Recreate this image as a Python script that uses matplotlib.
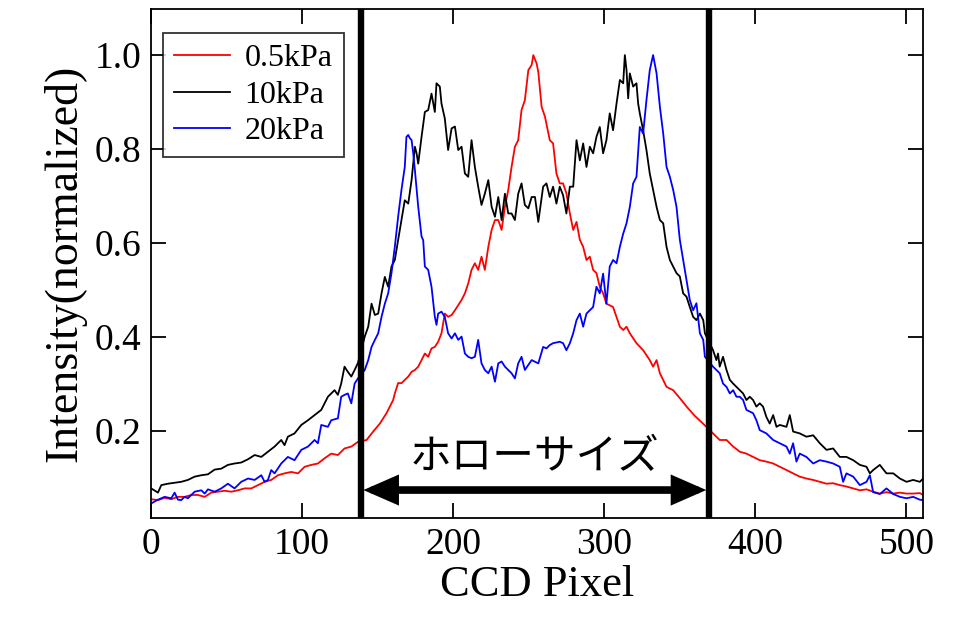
import numpy as np
import matplotlib.pyplot as plt

plt.rcParams['font.family'] = ['Liberation Serif', 'DejaVu Serif']

# 0.5kPa (red)
x_red = [0, 4.5, 8.9, 13.3, 17.7, 22.1, 26.5, 31.0, 35.4, 39.8, 44.2, 48.6, 53.0, 57.4,
         61.9, 66.3, 70.7, 75.1, 79.5, 83.9, 88.3, 92.7, 97.2, 101.6, 106.0, 110.4, 114.8,
         119.2, 123.6, 128.0, 132.5, 136.9, 142.6, 147.0, 151.4, 155.8, 160.2, 161.3, 163.5,
         165.7, 167.9, 170.2, 172.4, 174.6, 176.8, 181.2, 183.4, 185.6, 187.8, 190.0, 192.2,
         194.4, 196.6, 198.9, 201.1, 203.3, 205.5, 207.7, 209.9, 212.1, 214.3, 216.5, 218.7,
         220.9, 223.2, 225.4, 227.6, 229.8, 232.0, 234.2, 236.4, 238.6, 240.8, 243.0, 245.2,
         247.4, 249.7, 251.9, 253.0, 255.2, 256.3, 258.5, 260.7, 263.9, 266.1, 268.3, 270.5,
         272.7, 274.9, 277.2, 279.4, 281.6, 283.8, 286.0, 288.2, 290.4, 292.6, 294.8, 297.0,
         299.2, 301.4, 305.8, 310.3, 312.5, 314.7, 316.9, 321.3, 325.7, 330.1, 332.3, 334.6,
         336.8, 341.2, 345.6, 350.0, 355.0, 360.0, 365.0, 372.0, 376.4, 380.9, 385.3, 389.7,
         394.1, 398.5, 402.9, 407.3, 411.8, 416.2, 420.6, 425.0, 429.4, 433.8, 438.3, 442.7,
         447.1, 451.5, 455.9, 460.3, 464.8, 469.2, 473.6, 478.0, 482.4, 486.8, 491.3, 495.7,
         500.1, 504.5, 508.9, 511.1]
i_red = [0.055, 0.053, 0.058, 0.055, 0.060, 0.060, 0.064, 0.064, 0.060, 0.069, 0.071, 0.073,
         0.071, 0.074, 0.078, 0.078, 0.085, 0.092, 0.096, 0.106, 0.110, 0.113, 0.110, 0.124,
         0.128, 0.131, 0.142, 0.152, 0.149, 0.163, 0.167, 0.177, 0.181, 0.199, 0.216, 0.238,
         0.266, 0.280, 0.302, 0.302, 0.309, 0.316, 0.326, 0.330, 0.337, 0.365, 0.358, 0.376,
         0.379, 0.390, 0.408, 0.450, 0.443, 0.447, 0.457, 0.468, 0.479, 0.493, 0.514, 0.543,
         0.557, 0.543, 0.571, 0.543, 0.592, 0.628, 0.649, 0.649, 0.628, 0.677, 0.713, 0.762,
         0.805, 0.819, 0.883, 0.904, 0.968, 0.979, 1.000, 0.982, 0.964, 0.890, 0.869, 0.819,
         0.812, 0.748, 0.727, 0.727, 0.706, 0.663, 0.628, 0.645, 0.607, 0.592, 0.564, 0.571,
         0.543, 0.536, 0.507, 0.493, 0.471, 0.464, 0.422, 0.415, 0.422, 0.408, 0.387, 0.372,
         0.351, 0.337, 0.351, 0.323, 0.294, 0.287, 0.270, 0.250, 0.232, 0.217, 0.195, 0.181,
         0.181, 0.167, 0.156, 0.152, 0.145, 0.138, 0.135, 0.131, 0.124, 0.117, 0.110, 0.103,
         0.099, 0.096, 0.092, 0.088, 0.089, 0.085, 0.082, 0.078, 0.074, 0.076, 0.071, 0.067,
         0.070, 0.067, 0.069, 0.067, 0.067, 0.068, 0.064]

# 10kPa (black)
x_black = [0, 4.5, 6.7, 11.1, 15.5, 19.9, 24.3, 28.8, 33.2, 37.6, 42.0, 46.4, 50.8, 55.2,
           59.6, 64.1, 68.5, 72.9, 77.3, 81.7, 86.1, 88.3, 90.5, 94.9, 99.4, 103.8, 108.2,
           112.6, 117.0, 121.4, 123.6, 125.8, 128.0, 130.2, 132.5, 134.7, 136.9, 141.4, 143.7,
           145.9, 148.1, 150.3, 152.5, 154.7, 156.9, 159.1, 161.3, 163.5, 165.7, 167.9, 170.2,
           172.4, 174.6, 175.7, 176.8, 179.0, 181.2, 183.4, 185.6, 187.8, 188.9, 191.1, 192.2,
           194.4, 196.6, 198.9, 201.1, 203.3, 205.5, 207.7, 209.9, 212.1, 214.3, 216.5, 218.7,
           220.9, 223.2, 225.4, 227.6, 229.8, 232.0, 234.2, 236.4, 238.6, 240.8, 243.0, 245.2,
           247.4, 249.7, 251.9, 254.1, 256.3, 259.5, 261.7, 263.9, 266.1, 268.3, 270.5, 272.7,
           274.9, 277.2, 279.4, 281.6, 283.8, 286.0, 288.2, 290.4, 292.6, 294.8, 297.0, 299.2,
           301.4, 303.6, 305.8, 308.1, 310.3, 312.5, 313.6, 314.7, 315.8, 316.9, 319.1, 321.3,
           322.4, 323.5, 325.7, 327.9, 330.1, 332.3, 334.6, 336.8, 339.0, 341.2, 343.4, 345.6,
           347.8, 350.0, 352.2, 354.4, 356.6, 358.8, 361.0, 363.3, 365.5, 366.6, 372.0, 374.2,
           375.3, 376.4, 378.6, 380.9, 383.1, 385.3, 387.5, 389.7, 391.9, 394.1, 396.3, 398.5,
           400.7, 402.9, 405.1, 407.3, 409.5, 411.8, 414.0, 416.2, 420.6, 422.8, 425.0, 429.4,
           433.8, 438.3, 442.7, 447.1, 451.5, 455.9, 460.3, 464.8, 469.2, 473.6, 475.8, 478.0,
           482.4, 486.8, 491.3, 495.7, 500.1, 504.5, 508.9, 511.1]
i_black = [0.078, 0.069, 0.085, 0.088, 0.090, 0.092, 0.096, 0.103, 0.106, 0.108, 0.118,
           0.120, 0.128, 0.131, 0.133, 0.140, 0.149, 0.145, 0.156, 0.167, 0.181, 0.170,
           0.188, 0.195, 0.213, 0.223, 0.234, 0.245, 0.273, 0.287, 0.277, 0.301, 0.337,
           0.326, 0.316, 0.330, 0.345, 0.401, 0.422, 0.471, 0.447, 0.450, 0.493, 0.528,
           0.507, 0.550, 0.564, 0.607, 0.649, 0.691, 0.684, 0.734, 0.805, 0.791, 0.769,
           0.826, 0.879, 0.883, 0.918, 0.879, 0.940, 0.933, 0.897, 0.865, 0.798, 0.844,
           0.848, 0.798, 0.805, 0.748, 0.741, 0.819, 0.762, 0.720, 0.681, 0.705, 0.734,
           0.677, 0.656, 0.698, 0.649, 0.705, 0.663, 0.663, 0.649, 0.705, 0.727, 0.681,
           0.674, 0.698, 0.698, 0.645, 0.720, 0.727, 0.698, 0.720, 0.684, 0.720, 0.702,
           0.663, 0.720, 0.720, 0.819, 0.776, 0.812, 0.762, 0.805, 0.791, 0.826, 0.847,
           0.791, 0.819, 0.876, 0.840, 0.897, 0.947, 0.940, 1.000, 0.968, 0.908, 0.961,
           0.933, 0.940, 0.897, 0.876, 0.840, 0.798, 0.748, 0.713, 0.677, 0.649, 0.642,
           0.592, 0.564, 0.550, 0.536, 0.529, 0.493, 0.486, 0.464, 0.443, 0.436, 0.450,
           0.436, 0.408, 0.372, 0.351, 0.365, 0.337, 0.358, 0.330, 0.309, 0.301, 0.294,
           0.287, 0.280, 0.266, 0.273, 0.266, 0.252, 0.259, 0.252, 0.230, 0.216, 0.234,
           0.209, 0.213, 0.209, 0.234, 0.199, 0.195, 0.188, 0.191, 0.174, 0.160, 0.163,
           0.145, 0.145, 0.138, 0.128, 0.124, 0.110, 0.117, 0.128, 0.110, 0.110, 0.099,
           0.092, 0.096, 0.092, 0.099]

# 20kPa (blue)
x_blue = [0, 4.5, 8.9, 13.3, 15.5, 17.7, 19.9, 22.1, 24.3, 28.8, 33.2, 35.4, 37.6, 42.0,
          46.4, 50.8, 55.2, 59.6, 64.1, 68.5, 72.9, 75.1, 77.3, 79.5, 81.7, 86.1, 90.5, 94.9,
          99.4, 103.8, 108.2, 110.4, 112.6, 117.0, 119.2, 123.6, 125.8, 128.0, 130.2, 132.5,
          134.7, 136.9, 141.4, 143.7, 145.9, 148.1, 150.3, 152.5, 154.7, 156.9, 159.1, 161.3,
          163.5, 165.7, 167.9, 169.0, 170.2, 171.3, 172.4, 173.5, 174.6, 176.8, 179.0, 180.1,
          181.2, 183.4, 185.6, 187.8, 188.9, 190.0, 192.2, 194.4, 196.6, 198.9, 201.1, 203.3,
          205.5, 207.7, 209.9, 212.1, 214.3, 216.5, 218.7, 220.9, 223.2, 225.4, 227.6, 229.8,
          232.0, 234.2, 238.6, 240.8, 243.0, 245.2, 247.4, 251.9, 256.3, 259.5, 261.7, 263.9,
          266.1, 270.5, 272.7, 274.9, 277.2, 279.4, 281.6, 283.8, 286.0, 288.2, 290.4, 292.6,
          294.8, 297.0, 299.2, 301.4, 303.6, 305.8, 308.1, 310.3, 312.5, 314.7, 316.9, 319.1,
          321.3, 323.5, 325.7, 327.9, 330.1, 332.3, 334.6, 336.8, 339.0, 341.2, 343.4, 345.6,
          347.8, 350.0, 352.2, 354.4, 356.6, 358.8, 361.0, 363.3, 365.5, 366.6, 372.0, 376.4,
          378.6, 380.9, 383.1, 385.3, 387.5, 389.7, 391.9, 394.1, 398.5, 400.7, 402.9, 407.3,
          411.8, 416.2, 420.6, 422.8, 425.0, 427.2, 429.4, 433.8, 438.3, 442.7, 447.1, 451.5,
          455.9, 458.1, 460.3, 464.8, 469.2, 473.6, 475.8, 478.0, 482.4, 486.8, 491.3, 495.7,
          500.1, 504.5, 508.9, 511.1]
i_blue = [0.046, 0.054, 0.060, 0.057, 0.069, 0.054, 0.053, 0.060, 0.057, 0.071, 0.074,
          0.067, 0.076, 0.071, 0.078, 0.088, 0.078, 0.092, 0.099, 0.096, 0.106, 0.092,
          0.096, 0.117, 0.110, 0.131, 0.145, 0.138, 0.160, 0.167, 0.181, 0.174, 0.213,
          0.209, 0.223, 0.227, 0.273, 0.277, 0.280, 0.259, 0.301, 0.312, 0.330, 0.351,
          0.379, 0.394, 0.408, 0.443, 0.471, 0.493, 0.536, 0.592, 0.656, 0.713, 0.762,
          0.826, 0.830, 0.823, 0.819, 0.791, 0.755, 0.677, 0.614, 0.606, 0.550, 0.543,
          0.507, 0.443, 0.426, 0.450, 0.454, 0.443, 0.408, 0.397, 0.408, 0.394, 0.401,
          0.365, 0.358, 0.355, 0.358, 0.394, 0.344, 0.330, 0.323, 0.337, 0.305, 0.344,
          0.348, 0.337, 0.323, 0.312, 0.344, 0.358, 0.330, 0.351, 0.344, 0.379, 0.376,
          0.383, 0.387, 0.390, 0.387, 0.372, 0.387, 0.408, 0.436, 0.450, 0.422, 0.450,
          0.457, 0.464, 0.507, 0.493, 0.535, 0.471, 0.550, 0.564, 0.557, 0.592, 0.620,
          0.642, 0.677, 0.727, 0.741, 0.847, 0.833, 0.904, 0.968, 1.000, 0.961, 0.890,
          0.833, 0.762, 0.741, 0.713, 0.677, 0.607, 0.564, 0.521, 0.479, 0.457, 0.472,
          0.408, 0.394, 0.358, 0.337, 0.323, 0.301, 0.294, 0.280, 0.287, 0.273, 0.273,
          0.266, 0.245, 0.238, 0.223, 0.202, 0.195, 0.181, 0.174, 0.167, 0.152, 0.174,
          0.135, 0.152, 0.145, 0.131, 0.138, 0.135, 0.131, 0.124, 0.092, 0.110, 0.103,
          0.085, 0.092, 0.106, 0.070, 0.066, 0.078, 0.066, 0.060, 0.057, 0.060, 0.054,
          0.053]

labels = ['0.5kPa', '10kPa', '20kPa']
colors = ['#ff0000', '#000000', '#0000ff']
halo_edges = [139, 369]   # CCD pixel positions of the two markers
halo_label = 'ホローサイズ'

fig = plt.figure(figsize=(9.55, 6.18), dpi=100)
ax = fig.add_axes([0.1583, 0.1618, 0.8082, 0.8236])

for xs, ys, lab, c in zip([x_red, x_black, x_blue], [i_red, i_black, i_blue], labels, colors):
    ax.plot(xs, ys, color=c, lw=1.3, label=lab)

for xe in halo_edges:
    ax.axvline(xe, ymin=0, ymax=0.996, color='k', lw=4.6)

# double arrow between the two markers + label
ax.annotate('', xy=(halo_edges[1] - 1.5, 0.0745), xytext=(halo_edges[0] + 1.5, 0.0745),
            arrowprops=dict(arrowstyle='<|-|>,head_length=0.8,head_width=0.35',
                            mutation_scale=20, lw=5.5, color='k',
                            shrinkA=0, shrinkB=0, joinstyle='miter'))
ax.text(np.mean(halo_edges), 0.143, halo_label, ha='center', va='center', fontsize=30,
        family=['Noto Sans CJK JP', 'DejaVu Sans'])

ax.set_xlim(0, 511)
ax.set_ylim(0.015, 1.098)
ax.set_xticks([0, 100, 200, 300, 400, 500])
ax.set_yticks([0.2, 0.4, 0.6, 0.8, 1.0])
ax.yaxis.set_major_formatter(plt.FormatStrFormatter('%.1f'))
ax.tick_params(direction='in', length=11, width=1.3, labelsize=27, top=True, right=True,
               pad=7)
for s in ax.spines.values():
    s.set_linewidth(1.3)

ax.set_xlabel('CCD Pixel', fontsize=32, labelpad=2)
ax.set_ylabel('Intensity(normalized)', fontsize=33, labelpad=6)

leg = ax.legend(loc='upper left', bbox_to_anchor=(0.0153, 0.953), fontsize=23,
                frameon=True, fancybox=False, edgecolor='k', handlelength=1.75,
                handletextpad=0.45, labelspacing=0.22, borderpad=0.35, borderaxespad=0)
leg.get_frame().set_linewidth(1.3)

fig.savefig('out.png', dpi=100)
